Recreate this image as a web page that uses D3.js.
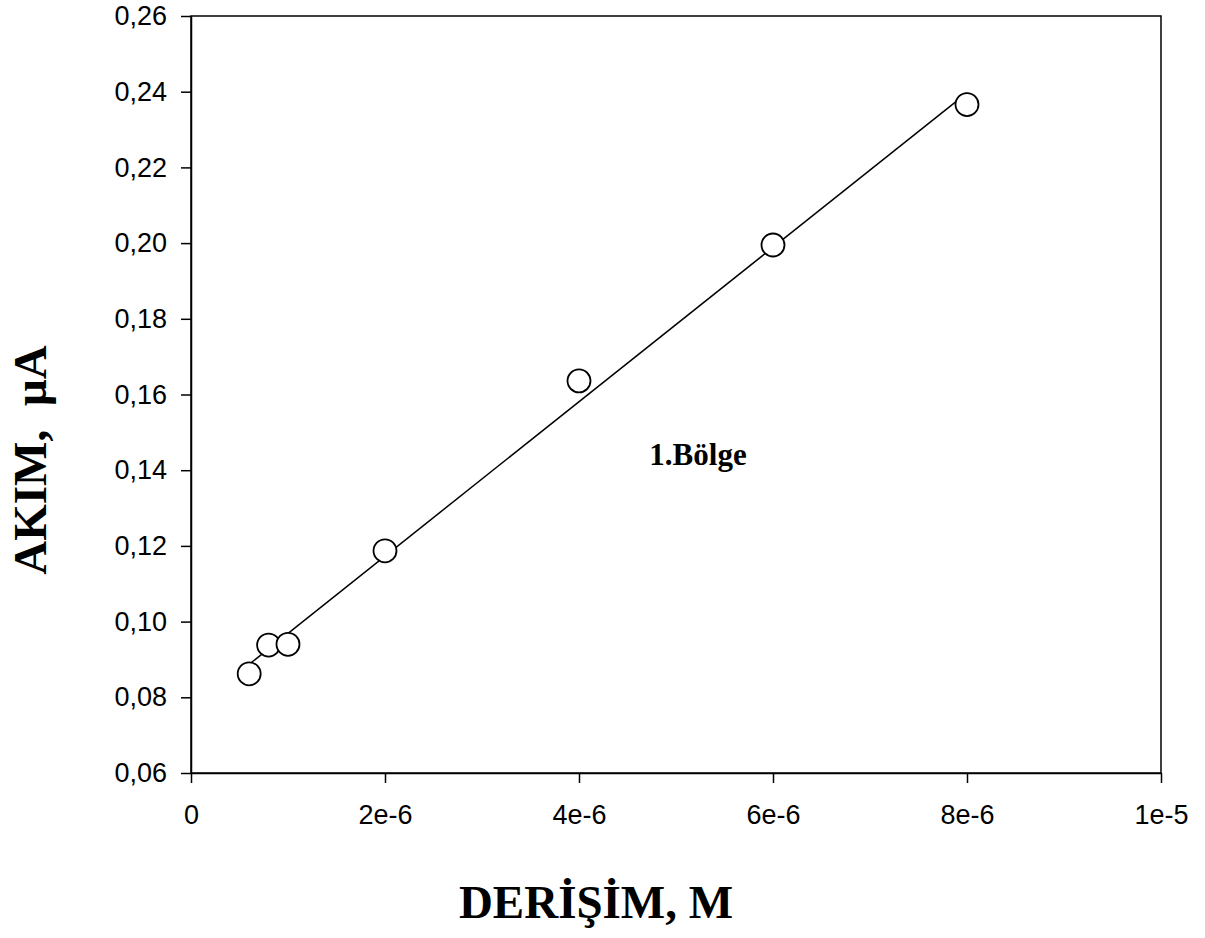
<!DOCTYPE html>
<html>
<head>
<meta charset="utf-8">
<script src="https://cdn.jsdelivr.net/npm/d3@7"></script>
<style>
  html, body { margin: 0; padding: 0; background: #fff; }
  svg { display: block; }
</style>
</head>
<body>
<svg id="chart" width="1205" height="938"></svg>
<script>
// Concentration (M) and measured current (µA)
const concentration = [6e-7, 8e-7, 1e-6, 2e-6, 4e-6, 6e-6, 8e-6];
const current = [0.0862, 0.0938, 0.0940, 0.1187, 0.1636, 0.1995, 0.2366];

const xTicks = [0, 2e-6, 4e-6, 6e-6, 8e-6, 1e-5];
const xTickLabels = ["0", "2e-6", "4e-6", "6e-6", "8e-6", "1e-5"];
const yTicks = [0.06, 0.08, 0.10, 0.12, 0.14, 0.16, 0.18, 0.20, 0.22, 0.24, 0.26];
const yTickLabels = ["0,06", "0,08", "0,10", "0,12", "0,14", "0,16", "0,18", "0,20", "0,22", "0,24", "0,26"];

const xTitle = "DERİŞİM, M";
const yTitle = "AKIM,  µA";
const regionLabel = "1.Bölge";

const svg = d3.select("#chart");
const plot = { left: 191, right: 1161, top: 16, bottom: 773 };

const x = d3.scaleLinear().domain([0, 1e-5]).range([plot.left, plot.right]);
const y = d3.scaleLinear().domain([0.06, 0.26]).range([plot.bottom, plot.top]);

// Frame
svg.append("rect")
  .attr("x", plot.left).attr("y", plot.top)
  .attr("width", plot.right - plot.left).attr("height", plot.bottom - plot.top)
  .attr("fill", "none").attr("stroke", "#000").attr("stroke-width", 1.5);

// Axes
const xAxis = d3.axisBottom(x)
  .tickValues(xTicks)
  .tickFormat((d, i) => xTickLabels[i])
  .tickSizeInner(10).tickSizeOuter(0).tickPadding(22);
const yAxis = d3.axisLeft(y)
  .tickValues(yTicks)
  .tickFormat((d, i) => yTickLabels[i])
  .tickSizeInner(10).tickSizeOuter(0).tickPadding(14);

const gx = svg.append("g").attr("transform", `translate(0,${plot.bottom})`).call(xAxis);
const gy = svg.append("g").attr("transform", `translate(${plot.left},0)`).call(yAxis);
[gx, gy].forEach(g => {
  g.select(".domain").attr("stroke", "#000").attr("stroke-width", 1.5);
  g.selectAll(".tick line").attr("stroke", "#000").attr("stroke-width", 1.5);
  g.selectAll(".tick text")
    .attr("fill", "#000")
    .style("font-family", "'Liberation Sans', Arial, sans-serif")
    .style("font-size", "27px");
});

// Least-squares fit line across the measured range
const mx = d3.mean(concentration), my = d3.mean(current);
const sxy = d3.sum(concentration, (c, i) => (c - mx) * (current[i] - my));
const sxx = d3.sum(concentration, c => (c - mx) * (c - mx));
const slope = sxy / sxx, intercept = my - slope * mx;
const fitX = d3.extent(concentration);
svg.append("path")
  .datum(fitX)
  .attr("d", d3.line().x(d => x(d)).y(d => y(intercept + slope * d)))
  .attr("fill", "none").attr("stroke", "#000").attr("stroke-width", 1.5);

// Data markers
svg.append("g").selectAll("circle")
  .data(concentration)
  .join("circle")
  .attr("cx", d => x(d))
  .attr("cy", (d, i) => y(current[i]))
  .attr("r", 11.5)
  .attr("fill", "#fff").attr("stroke", "#000").attr("stroke-width", 1.8);

// Region annotation
svg.append("text")
  .attr("x", 698).attr("y", 465)
  .attr("text-anchor", "middle")
  .style("font-family", "'Liberation Serif', 'Times New Roman', serif")
  .style("font-weight", "bold").style("font-size", "31px")
  .text(regionLabel);

// Axis titles
svg.append("text")
  .attr("x", 596).attr("y", 918)
  .attr("text-anchor", "middle")
  .style("font-family", "'Liberation Serif', 'Times New Roman', serif")
  .style("font-weight", "bold").style("font-size", "47px")
  .text(xTitle);

svg.append("text")
  .attr("transform", "translate(46,460) rotate(-90)")
  .attr("text-anchor", "middle")
  .style("font-family", "'Liberation Serif', 'Times New Roman', serif")
  .style("font-weight", "bold").style("font-size", "47px")
  .style("white-space", "pre")
  .text(yTitle);
</script>
</body>
</html>
